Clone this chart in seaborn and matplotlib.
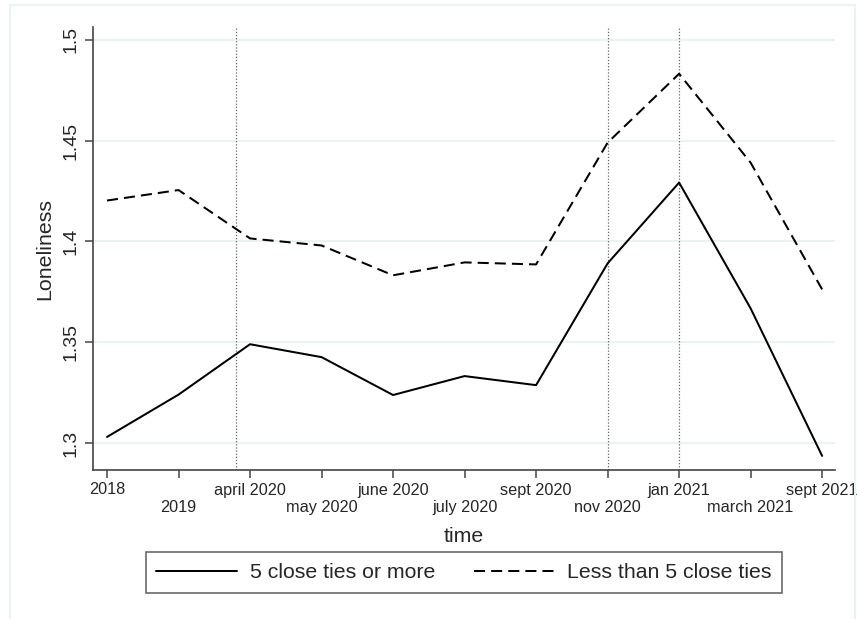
import matplotlib
matplotlib.use("Agg")
import matplotlib.pyplot as plt
from matplotlib.lines import Line2D
from matplotlib.patches import Rectangle
import seaborn as sns
import pandas as pd

# Survey waves and mean loneliness per group
waves = ["2018", "2019", "april 2020", "may 2020", "june 2020", "july 2020",
         "sept 2020", "nov 2020", "jan 2021", "march 2021", "sept 2021"]
many_ties = [1.303, 1.324, 1.349, 1.3426, 1.3238, 1.3332, 1.3287,
             1.3891, 1.4292, 1.3668, 1.2936]
few_ties = [1.4203, 1.4255, 1.4015, 1.398, 1.3832, 1.3896, 1.3886,
            1.449, 1.4832, 1.4391, 1.3762]
group_names = ["5 close ties or more", "Less than 5 close ties"]
yticks = [1.3, 1.35, 1.4, 1.45, 1.5]
event_lines = [1.8, 7, 8]

df = pd.DataFrame({
    "t": list(range(len(waves))) * 2,
    "Loneliness": many_ties + few_ties,
    "group": [group_names[0]] * len(waves) + [group_names[1]] * len(waves),
})

sns.set_theme(style="white")
plt.rcParams["font.family"] = ["Liberation Sans", "DejaVu Sans"]

fig = plt.figure(figsize=(8.57, 6.19), dpi=100)
ax = fig.add_axes([93 / 857, 1 - 470 / 619, (835 - 93) / 857, (470 - 27) / 619])

grid_col = "#EAF2F3"
# outer graph frame
fig.patches.append(Rectangle((10 / 857, -0.02), (855 - 10) / 857, 1.02 - 5 / 619,
                             transform=fig.transFigure, fill=False,
                             edgecolor=grid_col, lw=1.5))

for y in yticks:
    ax.axhline(y, color=grid_col, lw=1.5, zorder=0)
for x in event_lines:
    ax.axvline(x, color="#666666", lw=0.9, ls=(0, (1, 1.5)), zorder=1)

dash_map = {group_names[0]: "", group_names[1]: (5.5, 3)}
sns.lineplot(data=df, x="t", y="Loneliness", style="group", dashes=dash_map,
             color="black", lw=1.45, ax=ax, legend=False, zorder=3)

ax.set_xlim(-0.196, 10.18)
ax.set_ylim(1.2866, 1.5064)

# staggered time labels: even waves on the first row, odd waves on a second row
ax.set_xticks(range(0, len(waves), 2))
ax.set_xticklabels(waves[0::2], fontsize=11.7)
ax.set_xticks(range(1, len(waves), 2), minor=True)
ax.set_xticklabels(waves[1::2], minor=True, fontsize=11.7)

ax.set_yticks(yticks)
ax.set_yticklabels(["1.3", "1.35", "1.4", "1.45", "1.5"], rotation=90,
                   va="center", fontsize=14)

for s in ["top", "right"]:
    ax.spines[s].set_visible(False)
for s in ["left", "bottom"]:
    ax.spines[s].set_color("#444444")
    ax.spines[s].set_linewidth(1.2)
ax.tick_params(axis="both", which="both", direction="out", length=6, width=1.1,
               color="#444444", left=True, bottom=True)
ax.tick_params(axis="x", which="major", pad=3)
ax.tick_params(axis="x", which="minor", pad=3 + 12.5)
ax.tick_params(axis="y", pad=4)

ax.set_xlabel("time", fontsize=15.3)
ax.xaxis.set_label_coords(0.5, -(527 + 9 - 470) / (470 - 27))
ax.xaxis.label.set_va("center")
ax.set_ylabel("Loneliness", fontsize=15.4, labelpad=6)

handles = [Line2D([], [], color="black", lw=1.45),
           Line2D([], [], color="black", lw=1.45, ls=(0, (5.5, 3)))]
leg = fig.legend(handles, group_names, loc="center", ncol=2,
                 bbox_to_anchor=(464 / 857, 1 - 572.5 / 619),
                 fontsize=15.3, frameon=True, fancybox=False,
                 handlelength=3.8, handletextpad=0.6, columnspacing=1.8,
                 borderpad=0.5)
leg.get_frame().set_edgecolor("#444444")
leg.get_frame().set_linewidth(1.2)

fig.savefig("out.png", dpi=100, facecolor="white")
